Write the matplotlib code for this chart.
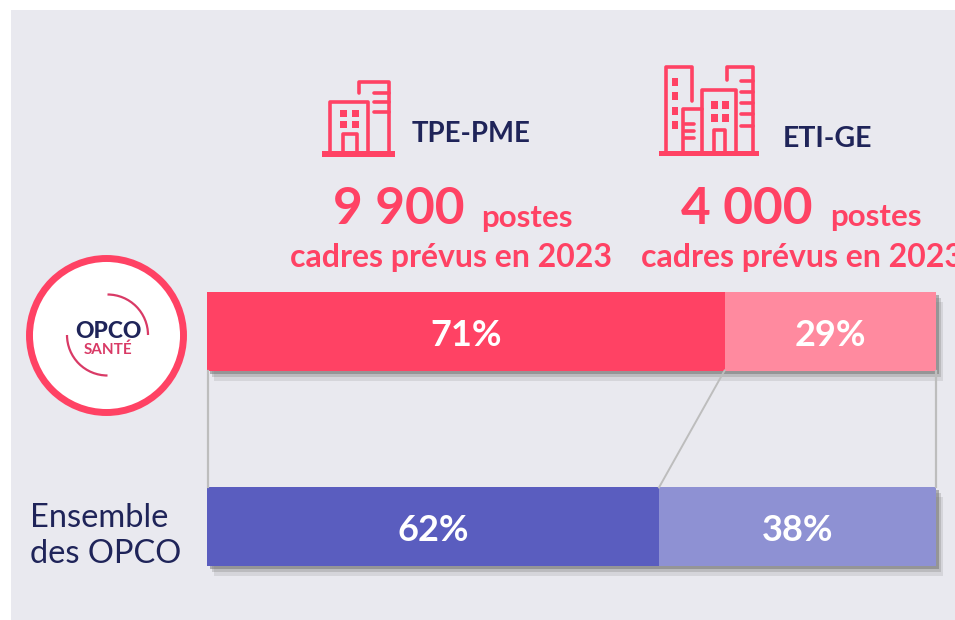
import matplotlib
matplotlib.use("Agg")
import matplotlib.pyplot as plt
import matplotlib.patheffects as pe
from matplotlib.patches import Rectangle, Circle, Arc

plt.rcParams["font.family"] = ["Lato", "DejaVu Sans"]

# Data
groups = ["OPCO Santé", "Ensemble des OPCO"]
tpe_pme = [71, 62]
eti_ge = [29, 38]
dark_colors = ["#FF4264", "#5A5DBF"]
light_colors = ["#FF8A9F", "#8E91D3"]

PINK = "#FF4264"
NAVY = "#1F2459"
GREY = "#BDBDBD"
W, H = 955, 620

fig = plt.figure(figsize=(9.55, 6.2), dpi=100, facecolor="white")

# Overlay in pixel coordinates for panel, icons and headings
bg = fig.add_axes([0, 0, 1, 1], zorder=0)
bg.set_xlim(0, W)
bg.set_ylim(H, 0)
bg.axis("off")
bg.add_patch(Rectangle((11, 10), W - 11, H - 10, color="#E9E9EF", lw=0))


def polyline(ax, xs, ys, lw=2.6):
    ax.plot(xs, ys, color=PINK, lw=lw, solid_capstyle="round", solid_joinstyle="round")


def block(ax, x0, y0, x1, y1):
    ax.add_patch(Rectangle((x0, y0), x1 - x0, y1 - y0, color=PINK, lw=0))


# Small building icon
block(bg, 322, 151, 395, 157)
polyline(bg, [330, 330, 368, 368], [151, 102, 102, 151])
polyline(bg, [359, 359, 389, 389], [93, 82, 82, 151])
for y in [93, 102, 112]:
    polyline(bg, [374, 389], [y, y])
for x in [340, 352]:
    for y in [110, 121]:
        block(bg, x, y, x + 7, y + 7)
polyline(bg, [343, 343, 357, 357], [151, 134, 134, 151])

# Large building icon
block(bg, 659, 151, 759, 156)
polyline(bg, [666, 666, 692, 692], [151, 67, 67, 101])
polyline(bg, [683, 683, 702], [151, 109, 109])
polyline(bg, [702, 702, 736, 736], [151, 90, 90, 151])
polyline(bg, [727, 727, 753, 753], [80, 67, 67, 151])
for y in [124, 131, 138]:
    polyline(bg, [685, 694], [y, y])
for y in [81, 92, 103, 114, 126]:
    polyline(bg, [741, 753], [y, y])
for y0, y1 in [(78, 86), (92, 100), (107, 115), (121, 129)]:
    block(bg, 672, y0, 678, y1)
for x in [711, 722]:
    for y in [101, 114]:
        block(bg, x, y, x + 6.5, y + 8)
polyline(bg, [714, 714, 725, 725], [151, 130, 130, 151])

# Headings
bg.text(412, 134, "TPE-PME", color=NAVY, fontsize=19.8, fontweight="bold", va="center")
bg.text(783, 139, "ETI-GE", color=NAVY, fontsize=20.5, fontweight="bold", va="center")
bg.text(333, 210, "9 900", color=PINK, fontsize=37, fontweight="bold", va="center")
bg.text(481, 218, "postes", color=PINK, fontsize=22.5, fontweight="bold", va="center")
bg.text(681, 210, "4 000", color=PINK, fontsize=37, fontweight="bold", va="center")
bg.text(830, 217, "postes", color=PINK, fontsize=22.5, fontweight="bold", va="center")
bg.text(451, 257, "cadres prévus en 2023", color=PINK, fontsize=23, fontweight="bold",
        ha="center", va="center")
bg.text(641, 257, "cadres prévus en 2023", color=PINK, fontsize=23, fontweight="bold",
        ha="left", va="center")

# OPCO Santé logo
bg.add_patch(Circle((106.5, 335.5), 77, facecolor="white", edgecolor=PINK, lw=5))
bg.add_patch(Arc((107.5, 335), 81, 81, theta1=-90, theta2=0, color="#D93A66", lw=1.6))
bg.add_patch(Arc((107.5, 335), 81, 81, theta1=90, theta2=180, color="#D93A66", lw=1.6))
bg.text(108, 332, "OPCO", color=NAVY, fontsize=16.5, fontweight="black", ha="center", va="center")
bg.text(108, 350, "SANTÉ", color="#D93A66", fontsize=11, fontweight="bold", ha="center", va="center")

# Left label of the second bar
bg.text(30, 518, "Ensemble", color=NAVY, fontsize=23.5, va="center")
bg.text(30, 554, "des OPCO", color=NAVY, fontsize=23.5, va="center")

# Stacked bars
ax = fig.add_axes([207 / W, 1 - 566 / H, 729 / W, 274 / H], zorder=1)
ax.patch.set_alpha(0)
ax.set_xlim(0, 100)
ax.set_ylim(1.2026, -0.2026)
ax.axis("off")

# Connectors between the bars
ax.plot([0.2, 0.2], [0.2, 0.8], color=GREY, lw=1.6, clip_on=False)
ax.plot([tpe_pme[0], tpe_pme[1]], [0.2, 0.8], color=GREY, lw=1.4)
ax.plot([100, 100], [0.2, 0.8], color=GREY, lw=1.6, clip_on=False)

shadow = [
    pe.SimplePatchShadow(offset=(5, -7), shadow_rgbFace="#909090", alpha=0.22),
    pe.SimplePatchShadow(offset=(3.5, -4.5), shadow_rgbFace="#808080", alpha=0.3),
    pe.SimplePatchShadow(offset=(2, -2.5), shadow_rgbFace="#707070", alpha=0.5),
    pe.Normal(),
]
for i in range(len(groups)):
    ax.barh(i, tpe_pme[i], height=0.405, color=dark_colors[i], lw=0, path_effects=shadow,
            clip_on=False)
    ax.barh(i, eti_ge[i], left=tpe_pme[i], height=0.405, color=light_colors[i], lw=0,
            path_effects=shadow, clip_on=False)
    ax.text(tpe_pme[i] / 2, i + 0.02, f"{tpe_pme[i]}%", color="white", fontsize=26,
            fontweight="bold", ha="center", va="center", zorder=5)
    ax.text(tpe_pme[i] + eti_ge[i] / 2, i + 0.02, f"{eti_ge[i]}%", color="white", fontsize=26,
            fontweight="bold", ha="center", va="center", zorder=5)

fig.savefig("out.png", dpi=100)
